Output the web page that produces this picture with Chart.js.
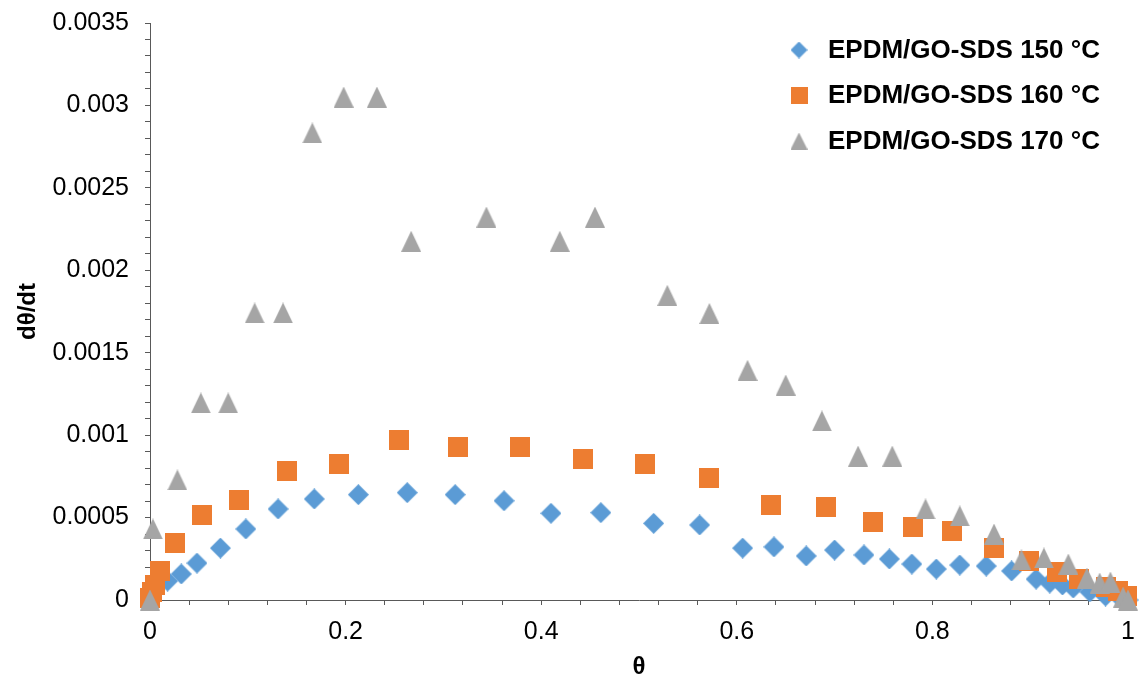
<!DOCTYPE html>
<html>
<head>
<meta charset="utf-8">
<script src="https://cdn.jsdelivr.net/npm/chart.js@4.4.0/dist/chart.umd.min.js"></script>
<style>
  html, body { margin: 0; padding: 0; background: #fff; }
</style>
</head>
<body>
<canvas id="chart" width="1139" height="682"></canvas>
<script>
// Series names (legend)
const seriesNames = ['EPDM/GO-SDS 150 °C', 'EPDM/GO-SDS 160 °C', 'EPDM/GO-SDS 170 °C'];
const seriesColors = ['#5B9BD5', '#ED7D31', '#A5A5A5'];

// 150 °C
const theta150 = [0, 0.018, 0.032, 0.048, 0.072, 0.098, 0.131, 0.168, 0.213, 0.263, 0.312, 0.362, 0.410, 0.461,
    0.515, 0.562, 0.606, 0.638, 0.671, 0.700, 0.730, 0.756, 0.779, 0.804, 0.828, 0.855, 0.881, 0.906, 0.920,
    0.933, 0.944, 0.961, 0.977, 0.992, 1.0];
const rate150 = [0, 0.000115, 0.000158, 0.000224, 0.000315, 0.000431, 0.000552, 0.000613, 0.000639, 0.000651,
    0.000639, 0.000602, 0.000526, 0.000530, 0.000465, 0.000455, 0.000315, 0.000322, 0.000267, 0.000303,
    0.000273, 0.000249, 0.000218, 0.000188, 0.000212, 0.000206, 0.000176, 0.000127, 0.000103, 0.000091,
    0.000073, 0.000049, 0.000024, 0.000012, 0];

// 160 °C
const theta160 = [0, 0.002, 0.005, 0.010, 0.026, 0.053, 0.091, 0.140, 0.193, 0.255, 0.315, 0.378, 0.443, 0.506,
    0.572, 0.635, 0.691, 0.739, 0.780, 0.820, 0.863, 0.899, 0.927, 0.950, 0.977, 0.990, 0.999];
const rate160 = [0.000012, 0.000049, 0.000091, 0.000176, 0.000346, 0.000516, 0.000607, 0.000783, 0.000825,
    0.000971, 0.000928, 0.000928, 0.000855, 0.000825, 0.000740, 0.000576, 0.000564, 0.000473, 0.000443,
    0.000419, 0.000315, 0.000237, 0.000170, 0.000127, 0.000079, 0.000055, 0.000024];

// 170 °C
const theta170 = [0, 0.003, 0.028, 0.052, 0.080, 0.107, 0.136, 0.166, 0.198, 0.232, 0.267, 0.344, 0.419, 0.455,
    0.529, 0.572, 0.611, 0.650, 0.687, 0.724, 0.759, 0.793, 0.828, 0.863, 0.891, 0.914, 0.939, 0.958, 0.971,
    0.982, 0.995, 1.0];
const rate170 = [0, 0.000431, 0.000728, 0.001195, 0.001195, 0.001741, 0.001741, 0.002833, 0.003051, 0.003051,
    0.002176, 0.002323, 0.002176, 0.002323, 0.001848, 0.001738, 0.001393, 0.001304, 0.001086, 0.000873,
    0.000873, 0.000552, 0.000510, 0.000400, 0.000243, 0.000255, 0.000218, 0.000133, 0.000103, 0.000109,
    0.000018, 0];

// Tick labels
const xTickLabels = ['0', '0.2', '0.4', '0.6', '0.8', '1'];
const yTickLabels = ['0', '0.0005', '0.001', '0.0015', '0.002', '0.0025', '0.003', '0.0035'];

const FONT = '"Liberation Sans", Arial, sans-serif';
const AXIS_COLOR = '#595959';

// Marker images, drawn centred on the point
function makeMarker(shape, w, h, color) {
    const c = document.createElement('canvas');
    c.width = w;
    c.height = h;
    const g = c.getContext('2d');
    g.fillStyle = color;
    g.beginPath();
    if (shape === 'diamond') {
        g.moveTo(w / 2, 0); g.lineTo(w, h / 2); g.lineTo(w / 2, h); g.lineTo(0, h / 2);
    } else if (shape === 'triangle') {
        g.moveTo(w / 2, 0); g.lineTo(w, h); g.lineTo(0, h);
    } else {
        g.rect(0, 0, w, h);
    }
    g.closePath();
    g.fill();
    return c;
}

const shapes = ['diamond', 'square', 'triangle'];
const markers = [
    makeMarker('diamond', 21, 21, seriesColors[0]),
    makeMarker('square', 20, 20, seriesColors[1]),
    makeMarker('triangle', 20, 21, seriesColors[2])
];
const legendMarkers = shapes.map((s, i) => makeMarker(s, 17, 17, seriesColors[i]));

function toPoints(xs, ys) {
    return xs.map((x, i) => ({ x: x, y: ys[i] }));
}

// Legend drawn inside the plot, top right
const insideLegend = {
    id: 'insideLegend',
    afterDraw(chart) {
        const ctx = chart.ctx;
        const rows = [50, 95, 141];
        ctx.save();
        ctx.font = 'bold 26px ' + FONT;
        ctx.fillStyle = '#000';
        ctx.textBaseline = 'middle';
        ctx.textAlign = 'left';
        seriesNames.forEach((name, i) => {
            ctx.drawImage(legendMarkers[i], 799 - 8.5, rows[i] - 8.5, 17, 17);
            ctx.fillText(name, 828, rows[i] + 1);
        });
        ctx.restore();
    }
};

function isMajor(v, step) {
    return Math.abs(v / step - Math.round(v / step)) < 1e-6;
}

const datasets = [
    { label: seriesNames[0], data: toPoints(theta150, rate150), pointStyle: markers[0], order: 3 },
    { label: seriesNames[1], data: toPoints(theta160, rate160), pointStyle: markers[1], order: 2 },
    { label: seriesNames[2], data: toPoints(theta170, rate170), pointStyle: markers[2], order: 1 }
].map((d, i) => Object.assign(d, {
    backgroundColor: seriesColors[i],
    borderColor: seriesColors[i],
    pointRadius: 10,
    showLine: false,
    clip: false
}));

new Chart(document.getElementById('chart'), {
    type: 'scatter',
    data: { datasets: datasets },
    options: {
        responsive: false,
        animation: false,
        events: [],
        layout: { padding: { left: 0, top: 23, right: 11, bottom: 0 } },
        plugins: {
            legend: { display: false },
            tooltip: { enabled: false }
        },
        scales: {
            x: {
                type: 'linear',
                min: 0,
                max: 1,
                afterFit(scale) {
                    scale.height = 82;
                    scale.paddingLeft = 0;
                    scale.paddingRight = 0;
                },
                border: { color: AXIS_COLOR, width: 1 },
                grid: { drawOnChartArea: false, drawTicks: true, tickLength: 5, color: AXIS_COLOR, tickColor: AXIS_COLOR },
                ticks: {
                    stepSize: 0.04,
                    autoSkip: false,
                    maxRotation: 0,
                    padding: 12,
                    color: '#000',
                    font: { family: FONT, size: 25 },
                    callback: (v) => isMajor(v, 0.2) ? xTickLabels[Math.round(v / 0.2)] : ''
                },
                title: {
                    display: true,
                    text: 'θ',
                    color: '#000',
                    padding: { top: -3, bottom: 0 },
                    font: { family: FONT, size: 24, weight: 'bold' }
                }
            },
            y: {
                type: 'linear',
                min: 0,
                max: 0.0035,
                afterFit(scale) {
                    scale.width = 150;
                    scale.paddingTop = 0;
                    scale.paddingBottom = 0;
                },
                border: { color: AXIS_COLOR, width: 1 },
                grid: { drawOnChartArea: false, drawTicks: true, tickLength: 5, color: AXIS_COLOR, tickColor: AXIS_COLOR },
                ticks: {
                    stepSize: 0.0001,
                    autoSkip: false,
                    padding: 16,
                    color: '#000',
                    font: { family: FONT, size: 25 },
                    callback: (v) => isMajor(v, 0.0005) ? yTickLabels[Math.round(v / 0.0005)] : ''
                },
                title: {
                    display: true,
                    text: 'dθ/dt',
                    color: '#000',
                    padding: { top: 14, bottom: 0 },
                    font: { family: FONT, size: 24, weight: 'bold' }
                }
            }
        }
    },
    plugins: [insideLegend]
});
</script>
</body>
</html>
